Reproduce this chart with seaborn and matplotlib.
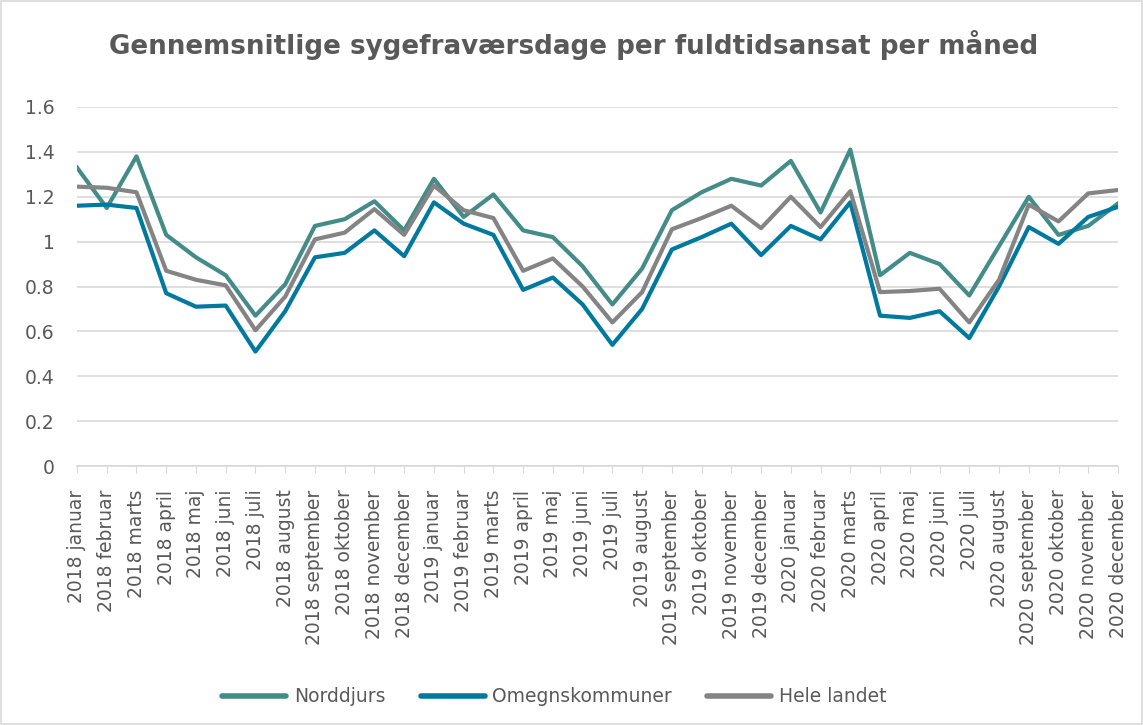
import numpy as np
import pandas as pd
import matplotlib
matplotlib.use("Agg")
import matplotlib.pyplot as plt
import seaborn as sns

# Month labels
years = ["2018", "2019", "2020"]
months = ["januar", "februar", "marts", "april", "maj", "juni", "juli",
          "august", "september", "oktober", "november", "december"]
labels = [f"{y} {m}" for y in years for m in months]

# Values
norddjurs = [1.33, 1.15, 1.38, 1.03, 0.93, 0.85, 0.67, 0.81, 1.07, 1.10, 1.18, 1.05,
             1.28, 1.11, 1.21, 1.05, 1.02, 0.89, 0.72, 0.88, 1.14, 1.22, 1.28, 1.25,
             1.36, 1.13, 1.41, 0.85, 0.95, 0.90, 0.76, 0.98, 1.20, 1.03, 1.07, 1.17]
omegn = [1.16, 1.165, 1.15, 0.77, 0.71, 0.715, 0.51, 0.69, 0.93, 0.95, 1.05, 0.935,
         1.175, 1.08, 1.03, 0.785, 0.84, 0.72, 0.54, 0.70, 0.965, 1.02, 1.08, 0.94,
         1.07, 1.01, 1.175, 0.67, 0.66, 0.69, 0.57, 0.80, 1.065, 0.99, 1.11, 1.155]
hele = [1.245, 1.24, 1.22, 0.87, 0.83, 0.805, 0.605, 0.755, 1.01, 1.04, 1.145, 1.03,
        1.25, 1.14, 1.105, 0.87, 0.925, 0.80, 0.64, 0.775, 1.055, 1.105, 1.16, 1.06,
        1.20, 1.065, 1.225, 0.775, 0.78, 0.79, 0.64, 0.83, 1.165, 1.09, 1.215, 1.23]

series = ["Norddjurs", "Omegnskommuner", "Hele landet"]
colors = ["#438C88", "#00799F", "#848484"]

df = pd.concat([
    pd.DataFrame({"idx": range(len(labels)), "value": vals, "serie": name})
    for name, vals in zip(series, [norddjurs, omegn, hele])
])

text_col = "#595959"
grid_col = "#D9D9D9"

fig = plt.figure(figsize=(11.43, 7.25), dpi=100)
ax = fig.add_axes([77 / 1143, 1 - 466 / 725, (1118 - 77) / 1143, (466 - 107) / 725])

sns.lineplot(data=df, x="idx", y="value", hue="serie", hue_order=series,
             palette=colors, linewidth=3.0, sort=False, ax=ax, legend=True)

ax.set_xlim(0, len(labels) - 1)
ax.set_ylim(0, 1.6)
ax.set_yticks(np.arange(0, 1.61, 0.2))
ax.set_yticklabels(["0", "0.2", "0.4", "0.6", "0.8", "1", "1.2", "1.4", "1.6"])
ax.set_xticks(range(len(labels)))
ax.set_xticklabels(labels, rotation=90)
ax.set_xlabel("")
ax.set_ylabel("")

ax.grid(axis="y", color=grid_col, linewidth=1.2)
ax.set_axisbelow(True)
for s in ["top", "right", "left"]:
    ax.spines[s].set_visible(False)
ax.spines["bottom"].set_color(grid_col)
ax.spines["bottom"].set_linewidth(1.2)
ax.tick_params(axis="y", length=0, labelsize=13.5, labelcolor=text_col, pad=16)
ax.tick_params(axis="x", length=5, color=grid_col, labelsize=13.5, labelcolor=text_col, pad=12)

leg = ax.legend(loc="center", bbox_to_anchor=(0.485, 1 - 697 / 725), bbox_transform=fig.transFigure,
                ncol=3, frameon=False, fontsize=13.5, handlelength=3.4, columnspacing=1.9,
                handletextpad=0.4)
for t in leg.get_texts():
    t.set_color(text_col)
for line in leg.get_lines():
    line.set_linewidth(4)
    line.set_solid_capstyle("round")

fig.text(0.502, 1 - 45 / 725, "Gennemsnitlige sygefraværsdage per fuldtidsansat per måned",
         ha="center", va="center", fontsize=18.8, fontweight="bold", color=text_col)

fig.patches.append(plt.Rectangle((0.001, 0.001), 0.998, 0.998, transform=fig.transFigure,
                                 fill=False, edgecolor=grid_col, linewidth=1.2))

fig.savefig("out.png", dpi=100)
